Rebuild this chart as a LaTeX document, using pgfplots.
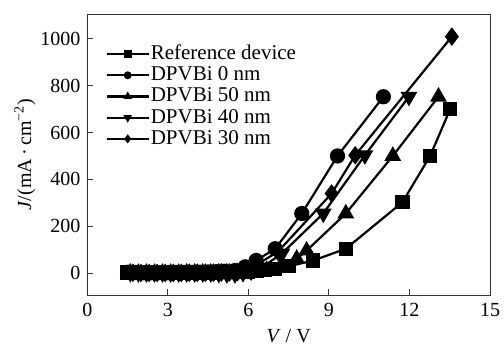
\documentclass[border=0pt]{standalone}
\usepackage{fontspec}
\setmainfont{Liberation Serif}
\usepackage{pgfplots}
\pgfplotsset{compat=1.18}
\begin{document}
\begin{tikzpicture}
\fontsize{20bp}{23bp}\selectfont
\begin{axis}[
  scale only axis,
  width=402.7bp, height=280bp,
  xmin=0, xmax=15, ymin=-92, ymax=1100,
  xtick={0,3,6,9,12,15},
  ytick={0,200,400,600,800,1000},
  tick pos=left,
  tick align=inside,
  major tick length=6bp,
  /pgf/number format/assume math mode=true,
  /pgf/number format/1000 sep={},
  ticklabel style={font=\fontsize{20bp}{23bp}\selectfont},
  xticklabel style={yshift=-1bp},
  axis line style={line width=1bp, black!80},
  every tick/.style={line width=1bp, black!80},
  xlabel={\textit{V} / V},
  ylabel={\textit{J}/(mA\,·\,cm\textsuperscript{−2})},
  label style={font=\fontsize{20bp}{23bp}\selectfont},
  xlabel style={at={(axis description cs:0.5,-0.145)}, anchor=center},
  ylabel style={at={(axis description cs:-0.155,0.5)}, anchor=center, rotate=0},
  every axis plot/.append style={black, line width=2.2bp, mark options={solid}},
  legend cell align=left,
  legend style={draw=none, fill=none, at={(axis description cs:0.045,0.895)}, anchor=north west,
    font=\fontsize{21bp}{24bp}\selectfont, row sep=2.2bp, inner sep=0pt,
    nodes={inner sep=1pt, text height=14bp, text depth=3bp}},
  legend image code/.code={
    \draw[#1, mark size=2.8bp, mark repeat=2, mark phase=2, line width=2.2bp]
      plot coordinates {(0bp,0bp) (21bp,0bp) (42bp,0bp)};},
]
% Reference device
\addplot[mark=square*, mark size=6bp] coordinates {
 (1.5,4)(1.8,3)(2.1,2)(2.4,2)(2.7,2)(3.0,2)(3.3,3)(3.6,3)(3.9,3)(4.2,3)
 (4.5,4)(4.8,4)(5.1,5)(5.4,5)(5.7,6)(6.0,8)(6.3,10)(6.6,13)(7.0,20)(7.5,30)
 (8.42,55)(9.63,105)(11.74,303)(12.77,500)(13.52,700)};
\addlegendentry{Reference device}
% DPVBi 0 nm
\addplot[mark=*, mark size=6.5bp] coordinates {
 (1.5,5)(1.8,4)(2.1,3)(2.4,3)(2.7,3)(3.0,3)(3.3,4)(3.6,4)(3.9,4)(4.2,5)
 (4.5,6)(4.8,7)(5.1,9)(5.5,12)(5.88,28)(6.29,55)(7.0,105)(7.99,255)
 (9.32,500)(11.03,752)};
\addlegendentry{DPVBi 0 nm}
% DPVBi 50 nm
\addplot[mark=triangle*, mark size=7.5bp] coordinates {
 (1.6,3)(1.9,2)(2.2,2)(2.5,2)(2.8,2)(3.1,2)(3.4,2)(3.7,3)(4.0,3)(4.3,3)
 (4.6,3)(4.9,4)(5.2,4)(5.5,5)(5.8,6)(6.1,8)(6.68,14)(7.22,33)(7.8,62)
 (8.17,97)(9.63,255)(11.38,500)(13.08,752)};
\addlegendentry{DPVBi 50 nm}
% DPVBi 40 nm
\addplot[mark=triangle*, mark size=7.5bp, mark options={rotate=180}] coordinates {
 (1.6,2)(1.9,1)(2.2,1)(2.5,1)(2.8,1)(3.1,1)(3.4,1)(3.7,1)(4.0,1)(4.3,1)
 (4.6,1)(4.9,-2)(5.2,-3)(5.5,-3)(5.8,2)(6.1,8)(6.5,25)(7.25,85)
 (8.79,255)(10.34,503)(11.98,752)};
\addlegendentry{DPVBi 40 nm}
% DPVBi 30 nm
\addplot[mark=diamond*, mark size=7.5bp] coordinates {
 (1.7,3)(2.0,2)(2.3,2)(2.6,2)(2.9,2)(3.2,2)(3.5,2)(3.8,3)(4.1,3)(4.4,3)
 (4.7,3)(5.0,4)(5.3,4)(5.6,6)(6.0,15)(6.35,40)(7.1,92)(9.1,340)
 (9.98,503)(13.58,1008)};
\addlegendentry{DPVBi 30 nm}
\end{axis}
\pgfresetboundingbox
\path[use as bounding box] (-87.3bp,-52bp) rectangle (416.7bp,295bp);
\end{tikzpicture}
\end{document}
